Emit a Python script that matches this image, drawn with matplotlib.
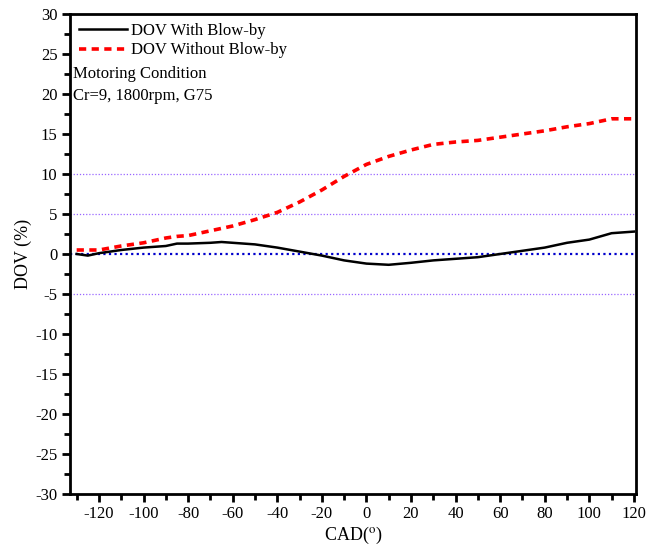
import matplotlib
matplotlib.use("Agg")
import matplotlib.pyplot as plt
from matplotlib.ticker import MultipleLocator

plt.rcParams["font.family"] = ["Liberation Serif", "DejaVu Serif"]
plt.rcParams["axes.unicode_minus"] = False
plt.rcParams["mathtext.fontset"] = "stix"

# data
cad = [-130, -125, -120, -110, -100, -90, -85, -80, -70, -65, -60, -50, -40, -30, -20, -10,
       0, 10, 20, 30, 40, 50, 60, 70, 80, 90, 100, 110, 120]
dov_with = [0.0, -0.2, 0.1, 0.5, 0.8, 1.0, 1.3, 1.3, 1.4, 1.5, 1.4, 1.2, 0.8, 0.3, -0.2, -0.8,
            -1.2, -1.35, -1.1, -0.8, -0.6, -0.4, 0.0, 0.4, 0.8, 1.4, 1.8, 2.6, 2.8]
dov_without = [0.5, 0.5, 0.5, 1.0, 1.4, 2.0, 2.2, 2.3, 2.9, 3.2, 3.5, 4.3, 5.2, 6.5, 8.0, 9.7,
               11.2, 12.2, 13.0, 13.7, 14.0, 14.2, 14.6, 15.0, 15.4, 15.9, 16.3, 16.9, 16.9]
ref_levels = [10, 5, -5]

fig = plt.figure(figsize=(6.64, 5.49), dpi=100)
ax = fig.add_axes([0.1054, 0.1002, 0.8526, 0.8743])

for lv in ref_levels:
    ax.axhline(lv, color="#9966ff", lw=0.9, ls=(0, (1, 1.5)), zorder=1)
ax.axhline(0, color="#0000cc", lw=1.6, ls=(0, (1, 1.5)), zorder=1)

ax.plot(cad, dov_with, color="black", lw=1.8, label="DOV With Blow-by", zorder=3)
ax.plot(cad, dov_without, color="#ff0000", lw=2.6, ls=(0, (2, 1.5)), label="DOV Without Blow-by", zorder=3)

ax.set_xlim(-133, 121)
ax.set_ylim(-30, 30)
ax.xaxis.set_minor_locator(MultipleLocator(10))
ax.yaxis.set_major_locator(MultipleLocator(5))
ax.yaxis.set_minor_locator(MultipleLocator(2.5))
ax.set_xticks(range(-120, 121, 20))
ax.tick_params(which="major", direction="out", length=6, width=2, labelsize=12, pad=3)
ax.tick_params(which="minor", direction="out", length=4, width=2)
for s in ax.spines.values():
    s.set_linewidth(2)

ax.set_xlabel("CAD($^{\\rm o}$)", fontsize=13, labelpad=2)
ax.set_ylabel("DOV (%)", fontsize=13, labelpad=2)

ax.legend(loc="upper left", frameon=False, fontsize=12, handlelength=2.9,
          handletextpad=0.2, borderaxespad=0.35, labelspacing=0.2, borderpad=0.2)
ax.text(0.005, 0.875, "Motoring Condition", transform=ax.transAxes, fontsize=12, va="center")
ax.text(0.005, 0.83, "Cr=9, 1800rpm, G75", transform=ax.transAxes, fontsize=12, va="center")

fig.savefig("out.png", dpi=100)
